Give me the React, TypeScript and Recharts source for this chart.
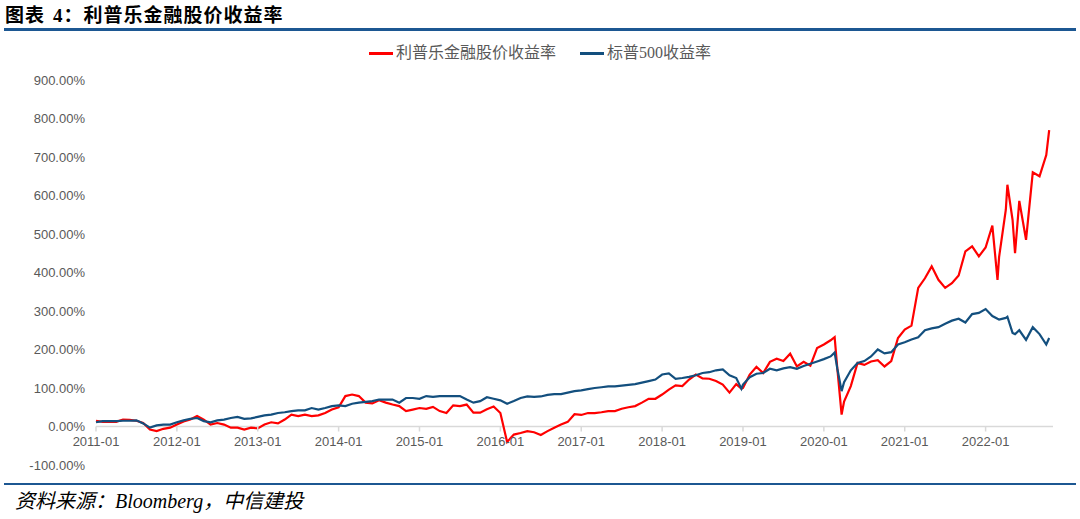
import React from 'react';
import { LineChart, Line, XAxis, YAxis, ReferenceLine } from 'recharts';

// month grid starts at 2011-01; values are cumulative returns in %
const startYear = 2011;
const yearLabels = ['2011-01', '2012-01', '2013-01', '2014-01', '2015-01', '2016-01', '2017-01', '2018-01', '2019-01', '2020-01', '2021-01', '2022-01'];
const yTicks = [-100, 0, 100, 200, 300, 400, 500, 600, 700, 800, 900];

// first trading day of each month, 2011-01 .. 2022-10
const lplaMonthly = [
  15, 12, 12, 12, 18, 17, 15, 9, -8, -12, -6, -3,
  5, 13, 18, 27, 18, 5, 9, 5, -3, -3, -8, -3,
  -5, 5, 11, 8, 18, 31, 27, 31, 27, 29, 35, 44,
  50, 79, 83, 79, 62, 60, 68, 62, 57, 53, 40, 44,
  48, 46, 51, 40, 35, 55, 53, 57, 36, 36, 45, 52,
  35, -40, -21, -17, -12, -15, -22, -12, -3, 5, 12, 32,
  30, 35, 35, 37, 40, 40, 46, 50, 53, 62, 72, 72,
  83, 96, 107, 105, 122, 135, 125, 124, 118, 109, 88, 110,
  100, 135, 155, 139, 168, 176, 170, 189, 156, 168, 158, 204,
  213, 224, 150, 65, 105, 165, 160, 169, 172, 156, 170, 230,
  252, 262, 360, 385, 416, 381, 360, 372, 392, 455, 468, 442,
  465, 522, 440, 563, 537, 586, 485, 660, 650, 705,
];
const spxMonthly = [
  11, 14, 14, 14, 15, 15, 16, 8, -3, 3, 5, 5,
  11, 16, 20, 22, 14, 11, 16, 18, 22, 25, 20, 21,
  25, 29, 31, 35, 37, 40, 42, 42, 48, 44, 48, 53,
  55, 53, 59, 62, 64, 66, 70, 70, 70, 62, 74, 74,
  72, 79, 77, 79, 79, 79, 79, 70, 62, 66, 76, 72,
  68, 59, 66, 74, 78, 77, 78, 82, 84, 84, 88, 92,
  94, 97, 100, 102, 104, 104, 106, 108, 110, 114, 118, 122,
  135, 138, 124, 126, 129, 133, 139, 141, 146, 148, 133, 126,
  109, 128, 137, 139, 150, 146, 151, 154, 150, 157, 163, 169,
  175, 182, 150, 115, 146, 165, 170, 182, 200, 190, 193, 213,
  219, 226, 232, 250, 255, 258, 267, 275, 280, 270, 292, 295,
  305, 287, 278, 282, 243, 250, 225, 258, 240, 213,
];

// intra-month turning points the monthly grid would miss
const extraDates = ['2018-12-24', '2020-02-19', '2020-03-20', '2022-02-24', '2022-04-08', '2022-05-12', '2022-10-14'];
const lplaExtra = [98, 232, 31, 381, 628, 450, 770];
const spxExtra = [98, 192, 92, 280, 285, 240, 230];

function monthIndex(date: string) {
  const [y, m, d] = date.split('-').map(Number);
  return (y - startYear) * 12 + (m - 1) + ((d || 1) - 1) / 30;
}

const rows = [
  ...lplaMonthly.map((v, i) => ({ t: i, lpla: v, spx: spxMonthly[i] })),
  ...extraDates.map((d, i) => ({ t: monthIndex(d), lpla: lplaExtra[i], spx: spxExtra[i] })),
].sort((a, b) => a.t - b.t);

const xTicks = yearLabels.map(monthIndex);

const RED = '#ff0000';
const BLUE = '#134f7e';
const NAVY = '#1c5792';
const GREY = '#595959';

const PLOT_TOP = 80;
const PLOT_BOTTOM = 465;
const Y_MIN = -100;
const Y_MAX = 900;
const zeroY = PLOT_TOP + ((PLOT_BOTTOM - PLOT_TOP) * Y_MAX) / (Y_MAX - Y_MIN);

function YearTick(props: any) {
  const { x, payload } = props;
  const label = yearLabels[xTicks.indexOf(payload.value)] ?? '';
  return (
    <g>
      <line x1={x} x2={x} y1={zeroY} y2={zeroY + 5} stroke="#d9d9d9" strokeWidth={1.5} />
      <text x={x} y={zeroY + 19} textAnchor="middle" fill={GREY} fontSize={13} fontFamily="'Liberation Sans', Arial">
        {label}
      </text>
    </g>
  );
}

const legendItems = [
  { name: '利普乐金融股价收益率', color: RED },
  { name: '标普500收益率', color: BLUE },
];

export default function App() {
  return (
    <div style={{ position: 'absolute', left: 0, top: 0, width: 1080, height: 519, background: '#fff', overflow: 'hidden' }}>
      <div style={{ position: 'absolute', left: 5, top: 0, fontSize: 19, lineHeight: 'normal', letterSpacing: 1, fontWeight: 700, fontFamily: "'Noto Sans CJK SC', sans-serif", color: '#000', whiteSpace: 'pre' }}>
        图表<span style={{ fontFamily: "'Liberation Serif', serif", marginLeft: 8 }}>4</span>：利普乐金融股价收益率
      </div>
      <div style={{ position: 'absolute', left: 4, top: 28, width: 1072, height: 3, background: NAVY }} />

      <div style={{ position: 'absolute', top: 42, left: 0, width: 1080, display: 'flex', justifyContent: 'center', gap: 24, fontFamily: "'Liberation Serif', 'Noto Sans CJK SC'", fontSize: 16, lineHeight: '22px', color: GREY }}>
        {legendItems.map((it) => (
          <div key={it.name} style={{ display: 'flex', alignItems: 'center' }}>
            <span style={{ display: 'inline-block', width: 24, height: 3, background: it.color, marginRight: 3 }} />
            <span>{it.name}</span>
          </div>
        ))}
      </div>

      <div style={{ position: 'absolute', left: 0, top: 0 }}>
        <LineChart width={1080} height={519} data={rows} margin={{ top: PLOT_TOP, right: 27, left: 0, bottom: 0 }}>
          <XAxis
            type="number"
            dataKey="t"
            domain={[0, 142]}
            ticks={xTicks}
            interval={0}
            axisLine={false}
            tickLine={false}
            height={519 - PLOT_BOTTOM}
            tick={<YearTick />}
          />
          <YAxis
            domain={[Y_MIN, Y_MAX]}
            ticks={yTicks}
            width={96}
            axisLine={false}
            tickLine={false}
            tickMargin={5}
            tickFormatter={(v: number) => `${v.toFixed(2)}%`}
            tick={{ fill: GREY, fontSize: 13, fontFamily: "'Liberation Sans', Arial" }}
          />
          <ReferenceLine y={0} stroke="#d9d9d9" strokeWidth={1.5} />
          <Line type="linear" dataKey="lpla" name="利普乐金融股价收益率" stroke={RED} strokeWidth={2.2} dot={false} isAnimationActive={false} />
          <Line type="linear" dataKey="spx" name="标普500收益率" stroke={BLUE} strokeWidth={2.2} dot={false} isAnimationActive={false} />
        </LineChart>
      </div>

      <div style={{ position: 'absolute', left: 4, top: 483, width: 1072, height: 2, background: NAVY }} />
      <div style={{ position: 'absolute', left: 15, top: 488, fontSize: 20, lineHeight: '26px', fontStyle: 'italic', fontFamily: "'Liberation Serif', 'Noto Sans CJK SC', serif", color: '#000' }}>
        资料来源：Bloomberg，中信建投
      </div>
    </div>
  );
}
